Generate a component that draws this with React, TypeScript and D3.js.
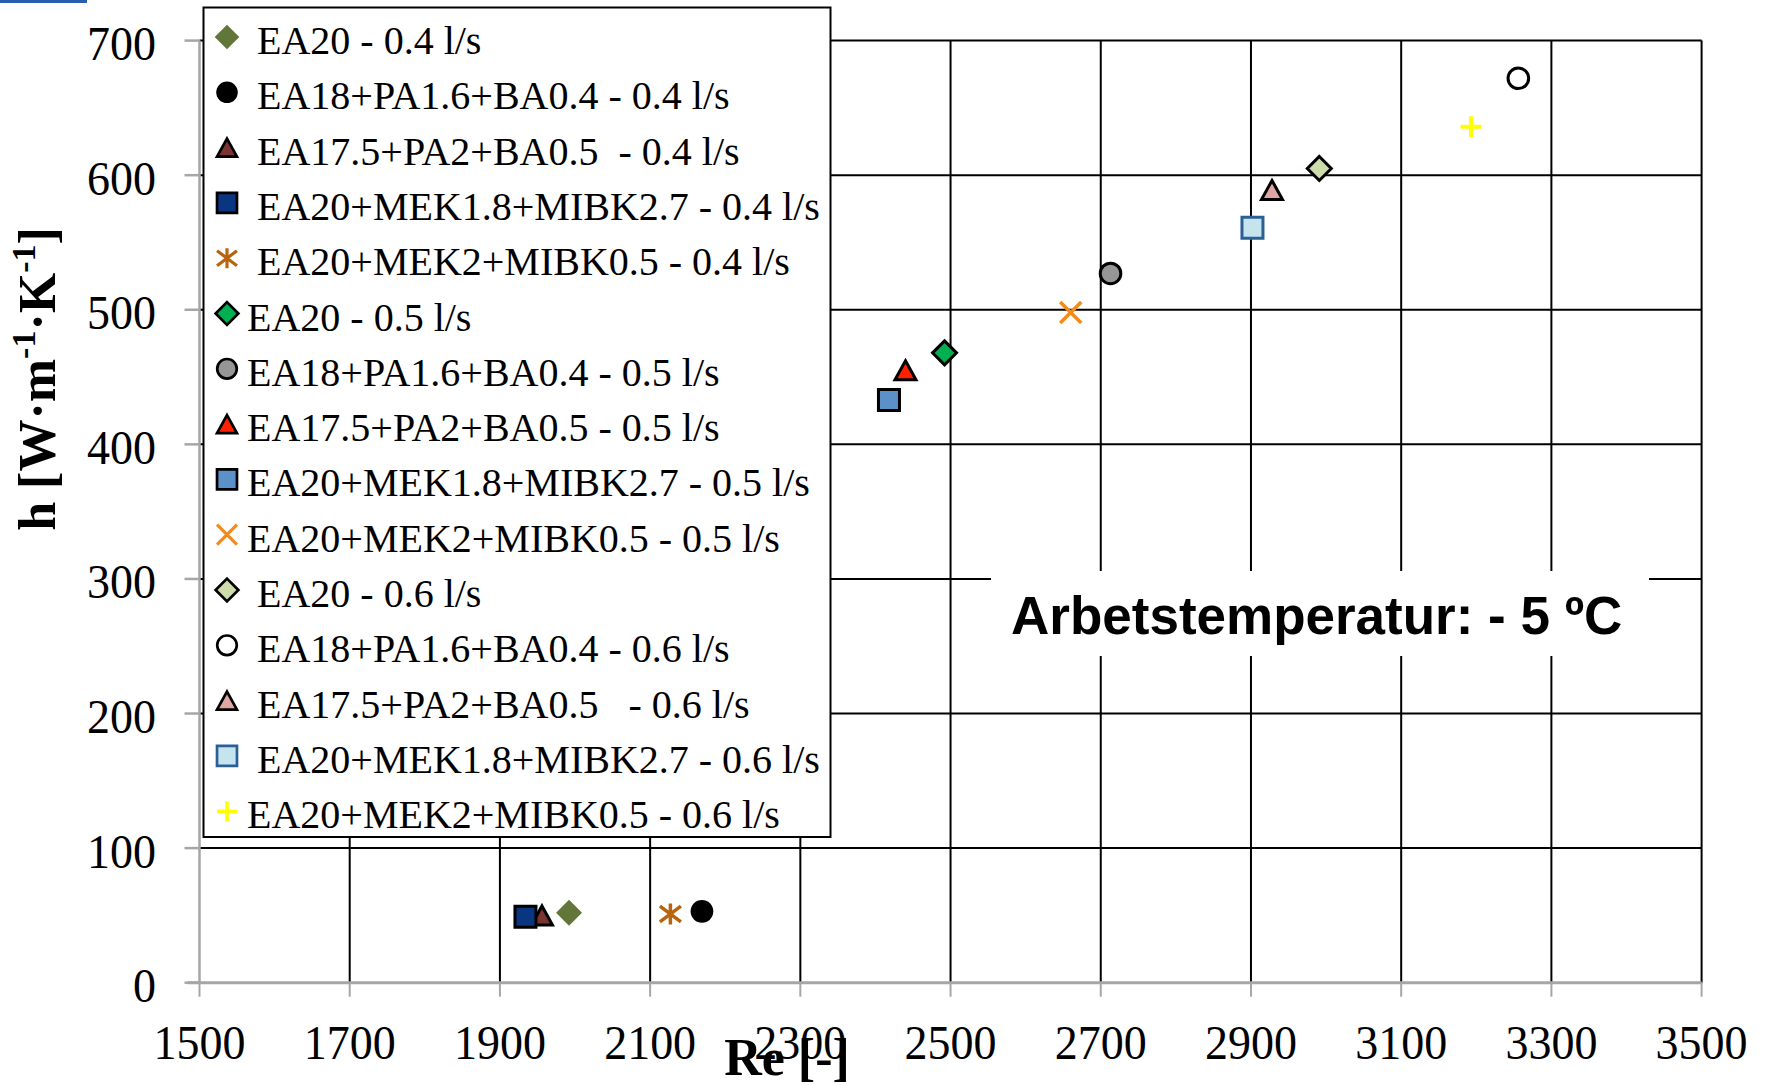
import React, { useEffect, useRef } from "react";
import * as d3 from "d3";

// Re [-] vs h [W·m-1·K-1], working temperature -5 °C
const mixtures = [
  "EA20",
  "EA18+PA1.6+BA0.4",
  "EA17.5+PA2+BA0.5",
  "EA20+MEK1.8+MIBK2.7",
  "EA20+MEK2+MIBK0.5",
];
const flowRates = ["0.4 l/s", "0.5 l/s", "0.6 l/s"];

const re04 = [1992, 2169, 1956, 1934, 2127];
const h04 = [52, 53, 50, 49, 51];
const re05 = [2492, 2713, 2440, 2418, 2660];
const h05 = [468, 527, 455, 433, 498];
const re06 = [2991, 3256, 2928, 2902, 3193];
const h06 = [605, 672, 589, 561, 636];

const xTicks = [1500, 1700, 1900, 2100, 2300, 2500, 2700, 2900, 3100, 3300, 3500];
const yTicks = [0, 100, 200, 300, 400, 500, 600, 700];

// leading spaces are part of the legend names in the original
const legendLabels = [
  " EA20 - 0.4 l/s",
  " EA18+PA1.6+BA0.4 - 0.4 l/s",
  " EA17.5+PA2+BA0.5  - 0.4 l/s",
  " EA20+MEK1.8+MIBK2.7 - 0.4 l/s",
  " EA20+MEK2+MIBK0.5 - 0.4 l/s",
  "EA20 - 0.5 l/s",
  "EA18+PA1.6+BA0.4 - 0.5 l/s",
  "EA17.5+PA2+BA0.5 - 0.5 l/s",
  "EA20+MEK1.8+MIBK2.7 - 0.5 l/s",
  "EA20+MEK2+MIBK0.5 - 0.5 l/s",
  " EA20 - 0.6 l/s",
  " EA18+PA1.6+BA0.4 - 0.6 l/s",
  " EA17.5+PA2+BA0.5   - 0.6 l/s",
  " EA20+MEK1.8+MIBK2.7 - 0.6 l/s",
  "EA20+MEK2+MIBK0.5 - 0.6 l/s",
];

// marker style per flow rate (rows) and mixture (columns)
const shapes = ["diamond", "circle", "triangle", "square", "cross"];
const crossKinds = ["asterisk", "x", "plus"];
const fills = [
  ["#617638", "#000000", "#7a3431", "#0a3580", "none"],
  ["#00b050", "#969696", "#ff2200", "#5b90c9", "none"],
  ["#cddcaa", "#ffffff", "#e0a6a4", "#c6e4ee", "none"],
];
const strokes = [
  ["none", "none", "#000", "#000", "#b8640f"],
  ["#000", "#000", "#000", "#000", "#f28a1c"],
  ["#000", "#000", "#000", "#2b6096", "#ffff00"],
];

const SERIF = "'Liberation Serif', 'Times New Roman', serif";
const SANS = "'Liberation Sans', Arial, sans-serif";

function markerPath(shape: string, kind: string, k: number) {
  if (shape === "diamond") {
    const s = 12 * k;
    return `M0,${-s}L${s},0L0,${s}L${-s},0Z`;
  }
  if (shape === "square") {
    const s = 10.5 * k;
    return `M${-s},${-s}H${s}V${s}H${-s}Z`;
  }
  if (shape === "triangle") {
    const w = 10.5 * k;
    const h = 9.5 * k;
    return `M0,${-h}L${w},${h}L${-w},${h}Z`;
  }
  if (shape === "circle") {
    const r = 10.3 * k;
    return `M${r},0A${r},${r},0,1,1,${-r},0A${r},${r},0,1,1,${r},0Z`;
  }
  const s = 10.5 * k;
  if (kind === "x") return `M${-s},${-s}L${s},${s}M${s},${-s}L${-s},${s}`;
  if (kind === "plus") return `M${-s},0H${s}M0,${-s}V${s}`;
  return `M0,${-s}V${s}M${-s},${-s * 0.75}L${s},${s * 0.75}M${s},${-s * 0.75}L${-s},${s * 0.75}`;
}

function drawMarker(g: any, f: number, m: number, k: number) {
  const shape = shapes[m];
  const kind = crossKinds[f];
  const isCross = shape === "cross";
  const fill = fills[f][m];
  const stroke = strokes[f][m];
  const sw = isCross ? (kind === "plus" ? 4 : 3.5) : 3;
  if (f === 0 && m === 0) {
    // olive diamond without outline, slightly larger
    g.append("path").attr("d", markerPath("diamond", kind, k * 1.08)).attr("fill", fill);
    return;
  }
  if (f === 0 && m === 1) {
    g.append("path").attr("d", markerPath("circle", kind, k * 1.1)).attr("fill", fill);
    return;
  }
  g.append("path")
    .attr("d", markerPath(shape, kind, k))
    .attr("fill", isCross ? "none" : fill)
    .attr("stroke", stroke)
    .attr("stroke-width", sw * (k < 1 ? 0.9 : 1))
    .attr("stroke-linejoin", "miter");
}

export default function App() {
  const svgRef = useRef<SVGSVGElement>(null);

  useEffect(() => {
    const svg = d3.select(svgRef.current);
    svg.selectAll("*").remove();

    const x = d3.scaleLinear().domain([1500, 3500]).range([199.5, 1701.6]);
    const y = d3.scaleLinear().domain([0, 700]).range([982.7, 40.6]);

    // small blue crop artifact at top-left
    svg.append("rect").attr("x", 0).attr("y", 0).attr("width", 87).attr("height", 3).attr("fill", "#2a5cb0");

    // --- GRID ---
    const grid = svg.append("g").attr("stroke", "#000").attr("stroke-width", 2);
    grid
      .selectAll("line.v")
      .data(xTicks.slice(1))
      .join("line")
      .attr("x1", (d) => x(d))
      .attr("x2", (d) => x(d))
      .attr("y1", y(700))
      .attr("y2", y(0));
    grid
      .selectAll("line.h")
      .data(yTicks.slice(1))
      .join("line")
      .attr("x1", x(1500))
      .attr("x2", x(3500))
      .attr("y1", (d) => y(d))
      .attr("y2", (d) => y(d));

    // --- AXES (grey) ---
    const axis = svg.append("g").attr("stroke", "#a6a6a6");
    axis.append("line").attr("x1", x(1500)).attr("x2", x(1500)).attr("y1", y(700)).attr("y2", y(0)).attr("stroke-width", 2.5);
    axis.append("line").attr("x1", x(1500) - 12).attr("x2", x(3500)).attr("y1", y(0)).attr("y2", y(0)).attr("stroke-width", 3);
    axis
      .selectAll("line.yt")
      .data(yTicks)
      .join("line")
      .attr("x1", x(1500) - 15)
      .attr("x2", x(1500))
      .attr("y1", (d) => y(d))
      .attr("y2", (d) => y(d))
      .attr("stroke-width", 2.5);
    axis
      .selectAll("line.xt")
      .data(xTicks)
      .join("line")
      .attr("x1", (d) => x(d))
      .attr("x2", (d) => x(d))
      .attr("y1", y(0))
      .attr("y2", y(0) + 14)
      .attr("stroke-width", 2);

    // --- TICK LABELS ---
    svg
      .append("g")
      .selectAll("text")
      .data(yTicks)
      .join("text")
      .attr("transform", (d) => `translate(156,${y(d) + 19.5}) scale(1,1.07)`)
      .attr("text-anchor", "end")
      .style("font-family", SERIF)
      .style("font-size", "46px")
      .text((d) => d);
    svg
      .append("g")
      .selectAll("text")
      .data(xTicks)
      .join("text")
      .attr("transform", (d) => `translate(${x(d)},1059) scale(1,1.07)`)
      .attr("text-anchor", "middle")
      .style("font-family", SERIF)
      .style("font-size", "46px")
      .text((d) => d);

    // --- AXIS TITLES ---
    svg
      .append("text")
      .attr("x", 787)
      .attr("y", 1075)
      .attr("text-anchor", "middle")
      .style("font-family", SERIF)
      .style("font-weight", "bold")
      .style("font-size", "52px")
      .text("Re [-]");

    const yt = svg
      .append("text")
      .attr("transform", "translate(55,379) rotate(-90)")
      .attr("text-anchor", "middle")
      .style("font-family", SERIF)
      .style("font-weight", "bold")
      .style("font-size", "52px");
    yt.append("tspan").text("h [W·m");
    yt.append("tspan").attr("dy", -20).style("font-size", "34px").text("-1");
    yt.append("tspan").attr("dy", 20).text("·K");
    yt.append("tspan").attr("dy", -20).style("font-size", "34px").text("-1");
    yt.append("tspan").attr("dy", 20).text("]");

    // --- ANNOTATION ---
    svg.append("rect").attr("x", 991).attr("y", 571).attr("width", 658).attr("height", 85).attr("fill", "#fff");
    svg
      .append("text")
      .attr("x", 1011)
      .attr("y", 634)
      .style("font-family", SANS)
      .style("font-weight", "bold")
      .style("font-size", "53px")
      .text("Arbetstemperatur: - 5 ºC");

    // --- POINTS ---
    const reSets = [re04, re05, re06];
    const hSets = [h04, h05, h06];
    const pts = svg.append("g");
    flowRates.forEach((_, f) => {
      mixtures.forEach((__, m) => {
        const g = pts.append("g").attr("transform", `translate(${x(reSets[f][m])},${y(hSets[f][m])})`);
        drawMarker(g, f, m, 1);
      });
    });

    // --- LEGEND ---
    const lg = svg.append("g");
    lg.append("rect")
      .attr("x", 203.5)
      .attr("y", 7.5)
      .attr("width", 627)
      .attr("height", 829.5)
      .attr("fill", "#fff")
      .attr("stroke", "#000")
      .attr("stroke-width", 2);
    legendLabels.forEach((label, i) => {
      const f = Math.floor(i / mixtures.length);
      const m = i % mixtures.length;
      const base = 54 + i * 55.3;
      const g = lg.append("g").attr("transform", `translate(227,${base - 17})`);
      drawMarker(g, f, m, 0.95);
      lg.append("text")
        .attr("x", 247)
        .attr("y", base)
        .attr("xml:space", "preserve")
        .style("white-space", "pre")
        .style("font-family", SERIF)
        .style("font-size", "40px")
        .text(label);
    });
  }, []);

  return (
    <svg
      ref={svgRef}
      width="1767"
      height="1085"
      style={{ position: "absolute", left: 0, top: 0, background: "#fff" }}
    ></svg>
  );
}
